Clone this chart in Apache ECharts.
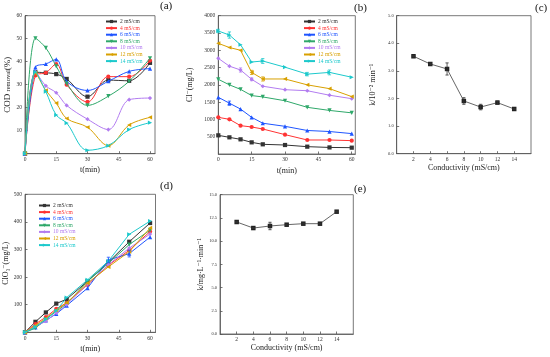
<!DOCTYPE html>
<html>
<head>
<meta charset="utf-8">
<script src="https://cdn.jsdelivr.net/npm/echarts@6/dist/echarts.min.js"></script>
<style>html,body{margin:0;padding:0;background:#fff}#c{width:550px;height:357px}</style>
</head>
<body>
<div id="c"></div>
<script>
// ---------- data ----------
const times = [0, 5, 10, 15, 20, 30, 40, 50, 60];
const condLabels = ['2 mS/cm', '4 mS/cm', '6 mS/cm', '8 mS/cm', '10 mS/cm', '12 mS/cm', '14 mS/cm'];
const conductivity = [2, 4, 6, 8, 10, 12, 14];

// (a) COD removal (%)
const cod2  = [0, 35.4, 35.2, 34.6, 32.5, 24.8, 32.0, 31.7, 39.5];
const cod4  = [0, 34.0, 35.2, 39.0, 30.0, 22.5, 33.5, 33.5, 40.5];
const cod6  = [0, 37.5, 39.0, 41.0, 31.5, 27.5, 31.5, 35.8, 37.0];
const cod8  = [0, 50.2, 46.0, 38.0, 30.5, 21.0, 25.0, 31.5, 41.5];
const cod10 = [0, 35.5, 29.5, 26.5, 21.0, 15.0, 10.5, 23.5, 24.2];
const cod12 = [0, 35.0, 27.5, 22.0, 15.3, 11.5, 3.5, 12.5, 15.8];
const cod14 = [0, 35.5, 27.0, 16.8, 13.3, 1.5, 3.5, 10.5, 13.5];

// (b) Cl- (mg/L)
const cl2  = [540, 482, 424, 337, 280, 260, 212, 190, 183];
const cl4  = [1060, 1003, 820, 781, 723, 560, 405, 405, 386];
const cl6  = [1640, 1470, 1300, 1060, 890, 800, 680, 650, 590];
const cl8  = [2160, 2000, 1870, 1690, 1650, 1540, 1350, 1260, 1190];
const cl10 = [2767, 2540, 2430, 2160, 1960, 1860, 1830, 1700, 1600];
const cl12 = [3200, 3080, 3000, 2360, 2170, 2170, 2000, 1890, 1660];
const cl14 = [3558, 3440, 3160, 2660, 2690, 2510, 2310, 2360, 2220];
// error bars in (b): [series index, time, half-width]
const clErr = [[2, 5, 60], [4, 10, 60], [4, 15, 40], [5, 15, 60], [5, 20, 60], [6, 0, 50], [6, 5, 90], [6, 20, 70], [6, 40, 50], [6, 50, 70]];

// (c) k / 10^-2 min^-1
const kCl = [3.53, 3.25, 3.07, 1.91, 1.69, 1.85, 1.62];
const kClErr = [0.02, 0.03, 0.22, 0.12, 0.10, 0.06, 0.02];

// (d) ClO3- (mg/L)
const clo2  = [0, 38, 72, 104, 120, 185, 254, 328, 396];
const clo4  = [0, 30, 55, 85, 107, 172, 243, 297, 365];
const clo6  = [0, 18, 43, 67, 97, 160, 262, 285, 345];
const clo8  = [0, 15, 47, 76, 103, 185, 250, 318, 370];
const clo10 = [0, 22, 40, 70, 100, 175, 245, 305, 356];
const clo12 = [0, 25, 50, 80, 107, 178, 237, 292, 378];
const clo14 = [0, 20, 47, 78, 126, 190, 258, 355, 403];
const cloErr = [[2, 40, 10], [2, 50, 12]];

// (e) k / mg L^-1 min^-1
const kClo = [12.06, 11.41, 11.63, 11.77, 11.88, 11.88, 13.17];
const kCloErr = [0.05, 0.05, 0.4, 0.05, 0.05, 0.05, 0.05];

// ---------- styles ----------
const colors = ['#333333', '#ff3333', '#1f55ff', '#2fa86a', '#b27cf0', '#d8a000', '#1cc9cc'];
const symbols = ['rect', 'circle', 'triangle', 'triangle', 'diamond', 'triangle', 'triangle'];
const rotates = [0, 0, 0, 180, 0, 90, -90];
const FONT = '"Liberation Serif", "DejaVu Serif", serif';
const frame = '#555';

const codSets = [cod2, cod4, cod6, cod8, cod10, cod12, cod14];
const clSets = [cl2, cl4, cl6, cl8, cl10, cl12, cl14];
const cloSets = [clo2, clo4, clo6, clo8, clo10, clo12, clo14];

function pairs(xs, ys) { return xs.map((x, i) => [x, ys[i]]); }

const grids = [
  { left: 25, top: 15.7, width: 130, height: 138 },
  { left: 218.3, top: 15.7, width: 137, height: 138.3 },
  { left: 396.7, top: 15.7, width: 134.3, height: 138 },
  { left: 25, top: 194.3, width: 130.5, height: 138 },
  { left: 220, top: 194.7, width: 133.3, height: 139.3 }
].map(g => Object.assign({ show: true, borderColor: frame, borderWidth: 0.8, backgroundColor: 'transparent' }, g));

function xAx(gi, min, max, interval, name, nameGap) {
  return {
    type: 'value', gridIndex: gi, min: min, max: max, interval: interval,
    name: name, nameLocation: 'middle', nameGap: nameGap,
    nameTextStyle: { fontFamily: FONT, fontSize: 8, color: '#222' },
    axisLine: { show: true, lineStyle: { color: frame, width: 0.8 } },
    axisTick: { show: true, inside: true, length: 2.5, lineStyle: { color: frame, width: 0.8 } },
    axisLabel: { fontFamily: FONT, fontSize: 5.5, color: '#333', margin: 3, showMaxLabel: false },
    splitLine: { show: false }
  };
}
function yAx(gi, min, max, interval, name, nameGap, extra) {
  return Object.assign({
    type: 'value', gridIndex: gi, min: min, max: max, interval: interval,
    name: name, nameLocation: 'middle', nameGap: nameGap, nameRotate: 90,
    nameTextStyle: { fontFamily: FONT, fontSize: 8, color: '#222' },
    axisLine: { show: true, lineStyle: { color: frame, width: 0.8 } },
    axisTick: { show: true, inside: true, length: 2.5, lineStyle: { color: frame, width: 0.8 } },
    axisLabel: { fontFamily: FONT, fontSize: 5.5, color: '#333', margin: 3, showMinLabel: false, formatter: v => String(v) },
    splitLine: { show: false }
  }, extra || {});
}

const xAxes = [
  xAx(0, 0, 62.4, 15, 't(min)', 12),
  xAx(1, 0, 61.6, 15, 't(min)', 12.5),
  xAx(2, 0, 16, 2, 'Conductivity (mS/cm)', 9),
  xAx(3, 0, 62.6, 15, 't(min)', 12.5),
  xAx(4, 0, 16, 2, 'Conductivity (mS/cm)', 9)
];
xAxes[2].axisLabel.showMinLabel = false;
xAxes[4].axisLabel.showMinLabel = false;

const yAxes = [
  yAx(0, 0, 60, 10, '{a|COD }{b|removal}{a|(%)}', 12, {
    nameTextStyle: { fontFamily: FONT, color: '#222', rich: { a: { fontSize: 9, fontFamily: FONT, color: '#222' }, b: { fontSize: 6.5, fontFamily: FONT, color: '#222' } } }
  }),
  yAx(1, 0, 4000, 500, 'Cl\u207B(mg/L)', 24),
  yAx(2, 0, 5, 1, 'k/10\u207B\u00B2 min\u207B\u00B9', 20, {
    axisLabel: { fontFamily: FONT, fontSize: 4.5, color: '#333', margin: 3, formatter: v => v.toFixed(1) }
  }),
  yAx(3, 0, 500, 100, 'ClO\u2083\u207B(mg/L)', 14),
  yAx(4, 0, 15, 2.5, 'k/mg\u00B7L\u207B\u00B9\u00B7min\u207B\u00B9', 13, {
    axisLabel: { fontFamily: FONT, fontSize: 4.5, color: '#333', margin: 3, formatter: v => v.toFixed(1) }
  })
];

const series = [];
function addLines(sets, gi, smooth) {
  sets.forEach((ys, i) => {
    series.push({
      type: 'line', name: condLabels[i], xAxisIndex: gi, yAxisIndex: gi,
      data: pairs(times, ys), smooth: smooth ? 0.35 : false,
      symbol: symbols[i], symbolRotate: rotates[i], symbolSize: 4.2,
      lineStyle: { color: colors[i], width: 1 },
      itemStyle: { color: colors[i] },
      emphasis: { disabled: true }, animation: false, z: 3 + i
    });
  });
}
addLines(codSets, 0, true);
addLines(clSets, 1, false);
addLines(cloSets, 3, false);

function errSeries(gi, rows) {
  return {
    type: 'custom', xAxisIndex: gi, yAxisIndex: gi, data: rows, z: 20, animation: false,
    renderItem: function (params, api) {
      const x = api.value(0), lo = api.value(1), hi = api.value(2);
      const p1 = api.coord([x, lo]), p2 = api.coord([x, hi]);
      const c = rows[params.dataIndex][3];
      const w = 1.6;
      const st = { stroke: c, lineWidth: 0.8 };
      return { type: 'group', children: [
        { type: 'line', shape: { x1: p1[0], y1: p1[1], x2: p2[0], y2: p2[1] }, style: st },
        { type: 'line', shape: { x1: p1[0] - w, y1: p1[1], x2: p1[0] + w, y2: p1[1] }, style: st },
        { type: 'line', shape: { x1: p2[0] - w, y1: p2[1], x2: p2[0] + w, y2: p2[1] }, style: st }
      ] };
    }
  };
}
series.push(errSeries(1, clErr.map(e => { const v = clSets[e[0]][times.indexOf(e[1])]; return [e[1], v - e[2], v + e[2], colors[e[0]]]; })));
series.push(errSeries(3, cloErr.map(e => { const v = cloSets[e[0]][times.indexOf(e[1])]; return [e[1], v - e[2], v + e[2], colors[e[0]]]; })));

function kSeries(gi, ys, errs) {
  series.push({
    type: 'line', xAxisIndex: gi, yAxisIndex: gi, data: pairs(conductivity, ys),
    symbol: 'rect', symbolSize: 4.5, lineStyle: { color: '#555', width: 0.9 },
    itemStyle: { color: '#222' }, emphasis: { disabled: true }, animation: false, z: 3
  });
  series.push(errSeries(gi, conductivity.map((x, i) => [x, ys[i] - errs[i], ys[i] + errs[i], '#333'])));
}
kSeries(2, kCl, kClErr);
kSeries(4, kClo, kCloErr);

function legendFor(gi, left, top) {
  return {
    show: true, orient: 'vertical', left: left, top: top, padding: 0,
    itemWidth: 11, itemHeight: 4, itemGap: 0.6,
    selectedMode: false,
    textStyle: { fontFamily: FONT, fontSize: 5.5, lineHeight: 5.6, padding: [0, 0, 0, -2] },
    data: condLabels.map((n, i) => ({ name: n, textStyle: { color: colors[i] } }))
  };
}

const labelText = (t, x, y) => ({ type: 'text', left: x, top: y, style: { text: t, font: '11px ' + FONT, fill: '#111' } });

const option = {
  animation: false,
  grid: grids,
  xAxis: xAxes,
  yAxis: yAxes,
  legend: [legendFor(0, 105, 18.5), legendFor(1, 303, 18.5), legendFor(3, 38, 202.5)],
  series: series,
  graphic: [
    labelText('(a)', 160, 1),
    labelText('(b)', 354, 3),
    labelText('(c)', 535, 3),
    labelText('(d)', 160, 181),
    labelText('(e)', 354, 184)
  ]
};

const chart = echarts.init(document.getElementById('c'), null, { renderer: 'canvas' });
chart.setOption(option);
</script>
</body>
</html>
